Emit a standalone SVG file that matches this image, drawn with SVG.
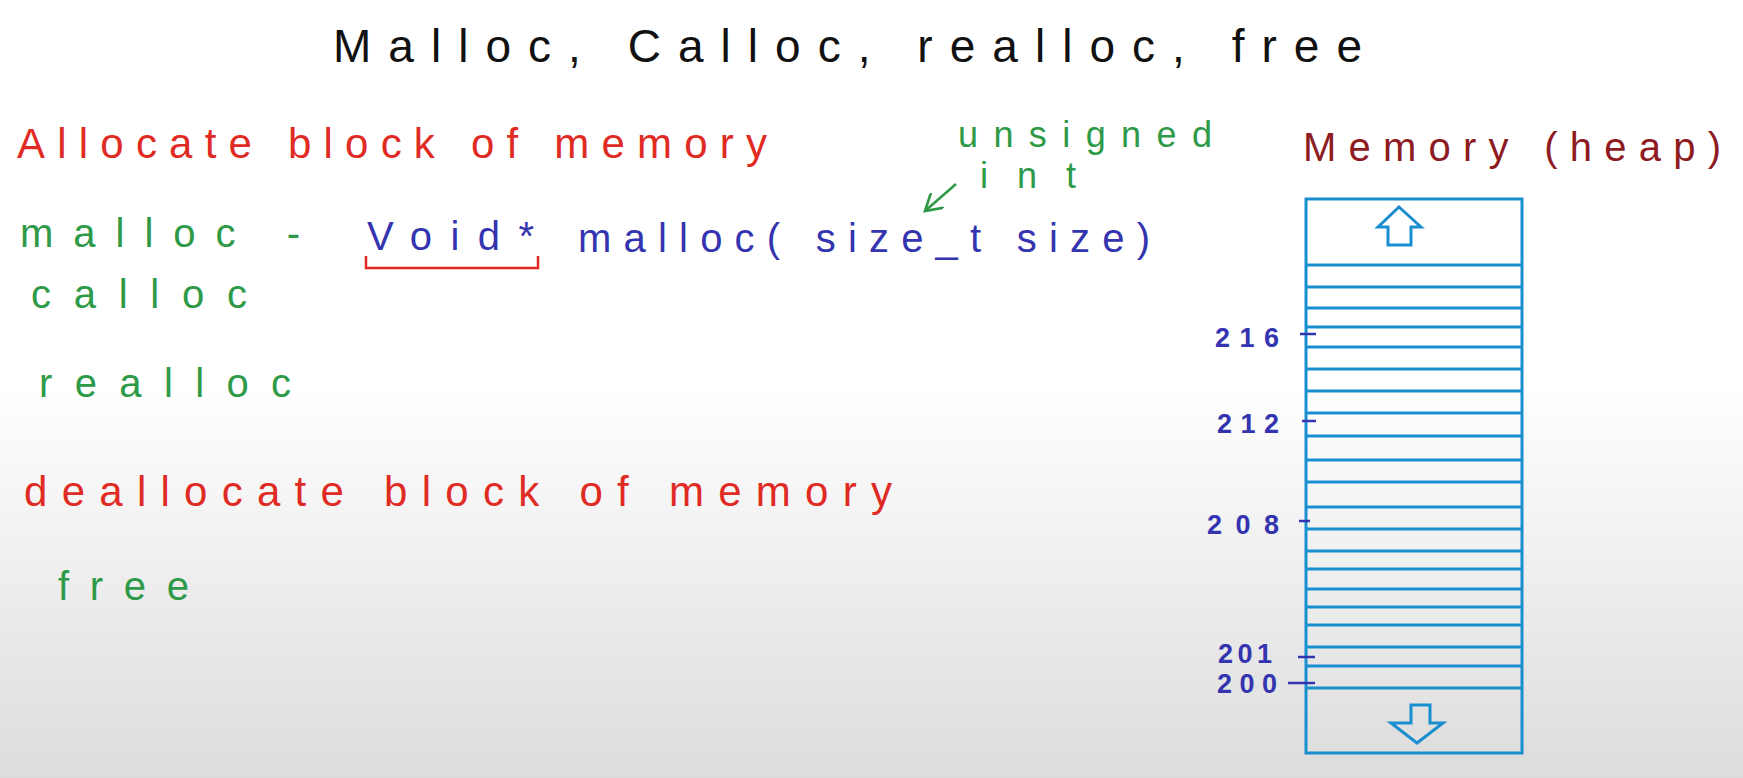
<svg xmlns="http://www.w3.org/2000/svg" width="1743" height="778" viewBox="0 0 1743 778">
<defs>
<linearGradient id="bg" x1="0" y1="0" x2="0" y2="1">
<stop offset="0" stop-color="#ffffff"/>
<stop offset="0.5" stop-color="#ffffff"/>
<stop offset="1" stop-color="#dcdcdc"/>
</linearGradient>
<marker id="openV" viewBox="0 0 12 12" refX="10" refY="6" markerWidth="20" markerHeight="20" markerUnits="userSpaceOnUse" orient="auto">
<path d="M0,0 L10,6 L0,12" fill="none" stroke="#2e9a48" stroke-width="1.6"/>
</marker>
<style>
text{font-family:"Liberation Sans","DejaVu Sans",sans-serif;}
.title{font-size:46px;fill:#111;}
.red{font-size:42px;fill:#e02b25;letter-spacing:6px;}
.green{font-size:40px;fill:#2e9a48;}
.note{font-size:36px;fill:#2e9a48;}
.blue{font-size:40px;fill:#3434b0;}
.heap{font-size:40px;fill:#8e1b1f;}
.addr{font-size:27px;fill:#3434b0;font-weight:bold;}
.mem{fill:none;stroke:#1a8fd0;stroke-width:3;}
.tick{stroke:#3434b0;stroke-width:2.5;}
</style>
</defs>
<rect width="1743" height="778" fill="url(#bg)"/>

<g id="title"><text class="title" x="333" y="62" textLength="1029" lengthAdjust="spacing">Malloc, Calloc, realloc, free</text></g>

<g id="allocate"><text class="red" x="17" y="158" textLength="756" lengthAdjust="spacing">Allocate block of memory</text></g>
<g id="unsigned-int">
<text class="note" x="958" y="147" textLength="254" lengthAdjust="spacing">unsigned</text>
<text class="note" x="980" y="188" textLength="96" lengthAdjust="spacing">int</text>
</g>
<g id="malloc">
<text class="green" x="20" y="247" textLength="280" lengthAdjust="spacing">malloc -</text>
<text class="blue" x="367" y="250" textLength="167" lengthAdjust="spacing">Void*</text>
<path d="M366,256 L366,268 L538,268 L538,256" fill="none" stroke="#e02b25" stroke-width="2.5"/>
<text class="blue" x="578" y="252" textLength="572" lengthAdjust="spacing">malloc( size_t size)</text>
</g>
<g id="calloc"><text class="green" x="31" y="308" textLength="216" lengthAdjust="spacing">calloc</text></g>
<g id="realloc"><text class="green" x="39" y="397" textLength="252" lengthAdjust="spacing">realloc</text></g>
<g id="deallocate"><text class="red" x="24" y="506" textLength="874" lengthAdjust="spacing">deallocate block of memory</text></g>
<g id="free"><text class="green" x="58" y="600" textLength="131" lengthAdjust="spacing">free</text></g>

<g id="memory-heap">
<text class="heap" x="1303" y="161" textLength="418" lengthAdjust="spacing">Memory (heap)</text>
<rect class="mem" x="1306" y="199" width="216" height="554"/>
<path class="mem" d="M1306,265H1522M1306,287H1522M1306,308H1522M1306,327H1522M1306,347H1522M1306,369H1522M1306,391H1522M1306,413H1522M1306,436H1522M1306,460H1522M1306,482H1522M1306,507H1522M1306,529H1522M1306,551H1522M1306,569H1522M1306,589H1522M1306,607H1522M1306,625H1522M1306,647H1522M1306,666H1522M1306,688H1522"/>
<path class="mem" d="M1399,207 L1421,227 L1411,227 L1411,245 L1388,245 L1388,227 L1378,227 Z"/>
<path class="mem" d="M1411,705 L1430,705 L1430,723 L1443,723 L1417,743 L1391,723 L1411,723 Z"/>
</g>

<g id="addresses">
<text class="addr" x="1215" y="347" textLength="64" lengthAdjust="spacing">216</text>
<line class="tick" x1="1300" y1="334" x2="1316" y2="334"/>
<text class="addr" x="1217" y="433" textLength="62" lengthAdjust="spacing">212</text>
<line class="tick" x1="1302" y1="421" x2="1316" y2="421"/>
<text class="addr" x="1207" y="534" textLength="72" lengthAdjust="spacing">208</text>
<line class="tick" x1="1299" y1="521" x2="1310" y2="521"/>
<text class="addr" x="1218" y="663" textLength="54" lengthAdjust="spacing">201</text>
<line class="tick" x1="1298" y1="657" x2="1315" y2="657"/>
<text class="addr" x="1217" y="693" textLength="60" lengthAdjust="spacing">200</text>
<line class="tick" x1="1288" y1="683" x2="1315" y2="683"/>
</g>

<g id="connectors">
<line x1="956" y1="184" x2="925" y2="211" stroke="#2e9a48" stroke-width="2.5" marker-end="url(#openV)"/>
</g>
</svg>
